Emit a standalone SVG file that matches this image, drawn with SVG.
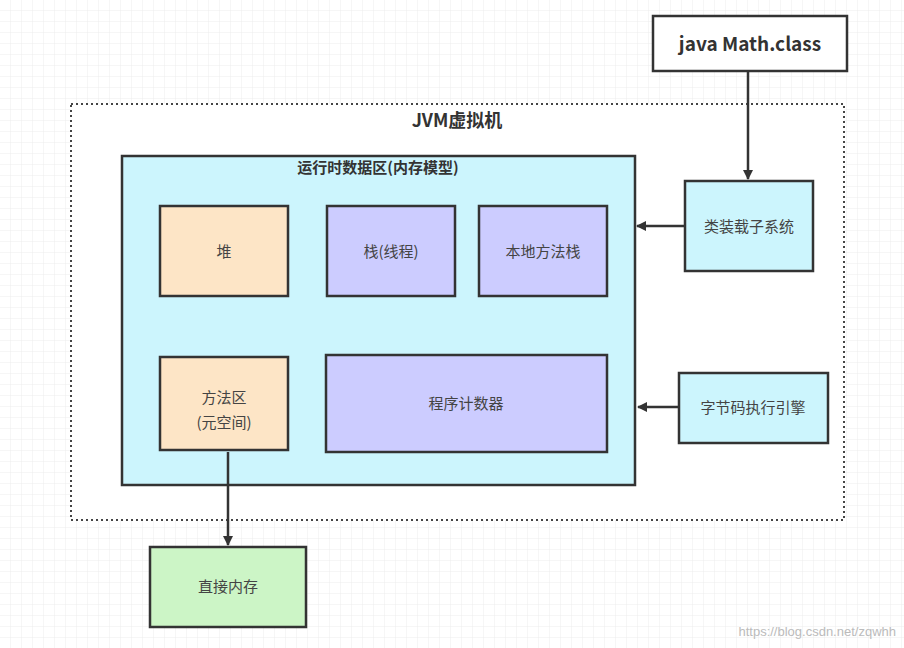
<svg xmlns="http://www.w3.org/2000/svg" width="904" height="648" viewBox="0 0 904 648">
<defs>
<pattern id="grid" width="11" height="11" patternUnits="userSpaceOnUse"><path d="M11 0V11H0" fill="none" stroke="#ececec" stroke-width="1"/></pattern>
<marker id="ah" markerWidth="10" markerHeight="10" refX="9" refY="5" orient="auto" markerUnits="userSpaceOnUse"><path d="M0,0L10,5L0,10z" fill="#333"/></marker>
</defs>
<style>
.b{stroke:#333;stroke-width:2.5}
.t{font-family:"Noto Sans CJK SC","Noto Sans",sans-serif;font-size:15px;fill:#444;text-anchor:middle}
.c{stroke:#333;stroke-width:2.5;fill:none;marker-end:url(#ah)}
</style>
<rect width="904" height="648" fill="#fff"/>
<rect width="904" height="648" fill="url(#grid)"/>
<g id="jvm"><rect x="71" y="104" width="773" height="416" fill="#fff" stroke="#444" stroke-width="2" stroke-dasharray="2,3"/>
<text x="457" y="127" class="t" style="font-size:18px;font-weight:bold;fill:#333">JVM虚拟机</text></g>
<g id="math"><rect x="653" y="16" width="194" height="55" fill="#fff" class="b"/><text x="750" y="51" class="t" style="font-size:19px;font-weight:bold;fill:#333">java Math.class</text></g>
<g id="data"><rect x="122" y="156" width="513" height="329" fill="#ccf5fd" class="b"/><text x="378" y="173" class="t" style="font-weight:bold;fill:#333">运行时数据区(内存模型)</text></g>
<g id="heap"><rect x="160" y="206" width="128" height="90" fill="#fde5c6" class="b"/><text x="224" y="257" class="t">堆</text></g>
<g id="stack"><rect x="327" y="206" width="128" height="90" fill="#ccccff" class="b"/><text x="391" y="257" class="t">栈(线程)</text></g>
<g id="native"><rect x="479" y="206" width="128" height="90" fill="#ccccff" class="b"/><text x="543" y="257" class="t">本地方法栈</text></g>
<g id="method"><rect x="160" y="357" width="128" height="93" fill="#fde5c6" class="b"/><text x="224" y="403" class="t">方法区</text><text x="224" y="428" class="t">(元空间)</text></g>
<g id="pc"><rect x="326" y="355" width="281" height="97" fill="#ccccff" class="b"/><text x="466" y="409" class="t">程序计数器</text></g>
<g id="loader"><rect x="685" y="181" width="128" height="90" fill="#ccf5fd" class="b"/><text x="749" y="232" class="t">类装载子系统</text></g>
<g id="engine"><rect x="679" y="373" width="149" height="70" fill="#ccf5fd" class="b"/><text x="753" y="413" class="t">字节码执行引擎</text></g>
<g id="direct"><rect x="150" y="547" width="156" height="80" fill="#ccf5c6" class="b"/><text x="228" y="592" class="t">直接内存</text></g>
<g id="connectors">
<path d="M748 72V179" class="c"/>
<path d="M684 226H637" class="c"/>
<path d="M678 407H638" class="c"/>
<path d="M228 452V545" class="c"/>
</g>
<text x="896" y="636" style="font-family:'Liberation Sans',sans-serif;font-size:13px;fill:#bbb;text-anchor:end">https://blog.csdn.net/zqwhh</text>
</svg>
